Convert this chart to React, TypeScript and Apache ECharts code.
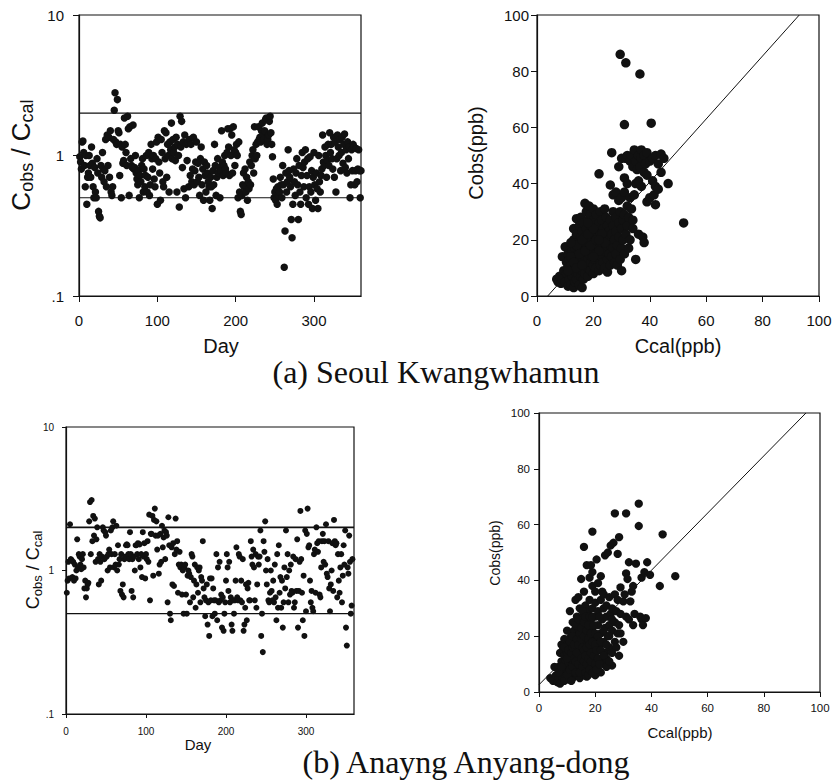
import React, { useEffect, useRef } from "react";
import * as echarts from "echarts";

// ---------- DATA ----------
// (a) Seoul Kwangwhamun : Cobs/Ccal ratio by day (day = index + 1)
const ratioSeoul: number[] = [
  0.98, 0.9, 0.8, 1.25, 1.27, 1.05, 0.85, 0.6, 1.0, 0.45,
  0.7, 0.75, 1.0, 0.85, 0.7, 1.15, 0.88, 0.6, 0.5, 0.82,
  0.55, 0.5, 0.95, 0.75, 0.4, 0.37, 0.36, 0.85, 0.7, 1.05,
  0.8, 0.65, 0.78, 1.3, 0.6, 1.4, 0.85, 1.35, 0.7, 1.5,
  0.55, 0.52, 0.6, 1.3, 2.1, 2.8, 1.25, 1.2, 2.5, 1.5,
  1.45, 0.72, 1.2, 0.5, 1.15, 0.88, 0.92, 1.85, 1.2, 1.05,
  0.85, 1.9, 1.55, 0.52, 1.6, 0.95, 0.85, 0.82, 1.65, 0.8,
  0.82, 1.0, 0.75, 0.68, 0.62, 0.78, 0.5, 0.72, 0.65, 0.85,
  0.95, 0.55, 0.8, 0.6, 0.72, 1.0, 0.55, 0.7, 1.05, 0.52,
  0.62, 1.2, 0.95, 0.8, 1.0, 0.68, 0.6, 0.95, 1.25, 0.45,
  1.35, 0.9, 0.75, 0.48, 1.3, 1.05, 0.65, 0.6, 1.5, 0.95,
  1.45, 0.7, 1.2, 1.0, 0.55, 1.25, 1.1, 1.7, 0.95, 1.3,
  1.05, 1.15, 0.92, 1.35, 0.55, 1.2, 1.0, 0.43, 1.9, 1.15,
  1.75, 0.82, 1.25, 0.58, 1.4, 0.5, 1.2, 0.92, 1.25, 0.6,
  1.3, 0.72, 1.2, 0.65, 0.8, 1.35, 0.62, 0.78, 0.9, 1.25,
  0.65, 0.88, 0.7, 0.52, 0.95, 1.15, 0.62, 0.8, 0.48, 0.9,
  0.72, 0.55, 0.85, 0.75, 0.65, 0.6, 0.48, 0.7, 0.6, 0.42,
  0.78, 0.62, 1.2, 0.85, 0.52, 0.7, 0.95, 0.75, 0.82, 0.5,
  0.78, 1.5, 0.9, 0.72, 0.85, 1.0, 0.8, 0.75, 1.05, 1.55,
  1.15, 0.72, 1.55, 1.0, 1.4, 0.75, 1.6, 1.1, 0.85, 1.05,
  1.2, 1.0, 0.5, 1.25, 0.55, 0.4, 0.38, 0.52, 0.62, 0.75,
  0.6, 0.8, 0.55, 0.7, 0.48, 0.65, 0.58, 0.9, 0.62, 0.85,
  1.0, 1.1, 0.75, 1.6, 0.95, 1.2, 1.0, 1.25, 1.6, 1.3,
  1.35, 1.25, 1.5, 1.7, 1.4, 1.3, 1.5, 1.8, 1.85, 1.2,
  1.3, 1.4, 1.75, 1.9, 1.45, 1.2, 0.98, 0.68, 0.5, 0.55,
  0.48, 0.58, 0.45, 0.6, 0.52, 0.55, 0.7, 0.62, 0.5, 0.85,
  0.62, 0.16, 0.29, 0.75, 0.55, 0.65, 1.1, 0.78, 0.7, 0.6,
  0.35, 0.26, 0.45, 0.8, 0.65, 0.52, 0.75, 0.95, 0.62, 0.35,
  0.85, 0.55, 0.45, 0.72, 1.05, 0.82, 0.6, 0.9, 1.1, 0.5,
  0.72, 0.95, 0.45, 0.6, 0.98, 0.55, 0.78, 0.42, 0.7, 1.05,
  0.62, 0.48, 0.75, 0.58, 0.42, 1.0, 0.65, 0.55, 0.72, 0.8,
  1.4, 0.9, 0.85, 1.15, 1.0, 0.7, 0.92, 1.2, 0.85, 1.45,
  1.05, 1.2, 0.95, 0.8, 1.35, 0.7, 1.25, 0.55, 0.95, 1.4,
  1.15, 1.0, 1.3, 0.78, 1.05, 1.35, 0.88, 1.2, 1.42, 0.82,
  1.1, 0.75, 1.25, 0.95, 1.15, 0.5, 0.62, 1.1, 0.78, 1.2,
  1.15, 0.62, 0.78, 1.12, 0.65, 0.8, 1.1, 0.78, 0.5, 0.78,
];

// (b) Anyang-dong : Cobs/Ccal ratio by day (day = index + 1)
const ratioAnyang: number[] = [
  0.7, 0.85, 1.15, 0.88, 2.1, 1.2, 1.18, 0.9, 1.15, 0.85,
  1.1, 0.88, 1.0, 1.65, 1.05, 1.3, 1.25, 1.1, 1.02, 1.2,
  1.3, 1.05, 0.75, 0.85, 0.65, 0.75, 0.8, 0.82, 2.2, 3.0,
  1.3, 3.1, 1.6, 2.4, 1.75, 2.3, 1.15, 1.65, 2.0, 1.2,
  0.8, 1.3, 1.15, 0.85, 1.25, 2.0, 1.9, 1.2, 1.85, 1.75,
  1.25, 1.0, 1.3, 1.4, 1.05, 1.9, 1.3, 2.0, 2.2, 1.05,
  1.3, 1.1, 2.05, 1.0, 1.5, 1.1, 1.2, 0.72, 1.3, 0.68,
  0.8, 0.65, 1.2, 1.25, 1.5, 1.52, 1.5, 1.3, 1.2, 1.85,
  1.3, 0.72, 1.2, 0.65, 1.25, 1.0, 1.5, 1.5, 1.3, 1.55,
  1.2, 1.52, 1.05, 1.3, 0.9, 1.85, 1.25, 1.55, 0.88, 1.3,
  1.2, 1.6, 1.15, 2.45, 0.62, 1.8, 1.8, 2.4, 0.92, 2.25,
  2.7, 1.75, 2.2, 1.4, 1.75, 0.95, 1.1, 1.8, 1.15, 2.05,
  1.45, 1.7, 1.9, 1.2, 1.85, 1.75, 0.6, 2.35, 1.5, 0.5,
  0.45, 1.45, 0.8, 1.55, 0.78, 1.3, 2.3, 1.4, 1.6, 0.7,
  1.1, 1.35, 1.05, 1.1, 0.68, 1.0, 0.5, 1.05, 1.1, 0.68,
  0.5, 0.92, 1.0, 0.95, 0.6, 0.9, 1.3, 1.25, 0.65, 0.85,
  1.1, 0.55, 0.8, 1.05, 0.7, 1.0, 1.05, 0.6, 0.9, 0.85,
  1.6, 0.75, 0.65, 0.48, 0.62, 0.8, 0.42, 0.6, 0.35, 0.88,
  0.62, 0.88, 0.48, 0.75, 0.62, 0.5, 0.62, 1.3, 0.45, 1.05,
  0.6, 1.15, 0.62, 0.68, 0.4, 0.65, 0.38, 0.5, 0.6, 0.85,
  1.3, 1.05, 0.72, 1.15, 0.6, 0.65, 0.42, 0.38, 0.62, 0.5,
  0.62, 0.85, 1.45, 0.65, 0.62, 1.3, 1.25, 0.62, 0.85, 0.6,
  1.2, 0.38, 0.42, 0.55, 0.8, 0.45, 0.75, 0.82, 0.62, 0.62,
  1.6, 1.25, 1.1, 1.4, 1.05, 0.62, 1.3, 0.55, 0.8, 1.25,
  1.1, 1.25, 1.9, 0.35, 0.5, 0.27, 1.6, 1.35, 2.2, 1.0,
  0.8, 1.2, 0.62, 0.6, 0.7, 1.0, 0.72, 0.62, 0.85, 0.6,
  1.1, 0.65, 0.45, 1.3, 0.55, 1.5, 0.7, 0.9, 0.55, 0.85,
  0.4, 0.6, 1.05, 0.75, 1.9, 0.9, 1.3, 0.6, 1.0, 0.68,
  1.1, 0.72, 0.7, 1.25, 0.55, 0.6, 1.2, 0.72, 1.65, 0.4,
  0.72, 1.15, 2.6, 1.2, 0.7, 0.45, 0.92, 0.35, 1.9, 0.52,
  1.8, 2.7, 1.45, 1.5, 0.85, 0.6, 0.72, 0.55, 0.52, 1.3,
  1.4, 0.7, 2.0, 1.55, 1.35, 1.6, 0.68, 0.65, 1.05, 1.6,
  1.8, 1.15, 1.6, 1.1, 2.1, 0.95, 0.9, 1.6, 0.75, 0.52,
  0.8, 1.0, 1.55, 0.72, 2.25, 1.6, 1.5, 1.55, 0.65, 1.3,
  0.85, 0.7, 1.05, 1.3, 0.6, 0.92, 1.5, 1.1, 1.9, 0.4,
  0.3, 1.05, 0.95, 1.75, 1.15, 0.5, 0.57, 1.2,
];

// Reference ratio lines (factor of two)
const ratioLines: number[] = [2, 0.5];

// (a) scatter : Ccal vs Cobs (ppb)
const ccalSeoul: number[] = [
  7, 7.5, 8, 8.5, 9, 9, 9.5, 10, 10, 10.5, 10.5, 11, 11, 11, 11.5, 11.5, 12, 12, 12, 12,
  12.5, 12.5, 13, 13, 13, 13, 13, 13.5, 13.5, 13.5, 14, 14, 14, 14, 14.5, 14.5, 14.5, 15, 15, 15,
  15, 15, 15.5, 15.5, 15.5, 16, 16, 16, 16, 16, 16.5, 16.5, 16.5, 17, 17, 17, 17, 17, 17.5, 17.5,
  17.5, 18, 18, 18, 18, 18, 18.5, 18.5, 18.5, 19, 19, 19, 19, 19, 19.5, 19.5, 20, 20, 20, 20,
  20, 20, 20.5, 20.5, 21, 21, 21, 21, 21.5, 21.5, 22, 22, 22, 22, 22, 22.5, 22.5, 22.5, 23, 23,
  23, 23.5, 23.5, 24, 24, 24, 24, 24.5, 24.5, 25, 25, 25, 25, 25.5, 25.5, 26, 26, 26, 26, 26.5,
  26.5, 26.5, 27, 27, 27, 27, 27.5, 27.5, 28, 28, 28, 28, 28.5, 28.5, 29, 29, 29, 29, 29.5, 29.5,
  29.5, 30, 30, 30, 30, 30, 30.5, 30.5, 31, 31, 31, 31, 31, 31.5, 31.5, 31.5, 32, 32, 32, 32,
  32.5, 32.5, 33, 33, 33, 33.5, 33.5, 34, 34, 34, 34.5, 34.5, 35, 35, 35, 35.5, 36, 36, 36, 36.5,
  36.5, 37, 37, 37, 37.5, 38, 38, 38, 38.5, 39, 39, 39, 40, 40, 40.5, 41, 41, 41.5, 42, 42,
  42, 43, 43, 44, 44, 45, 46.5, 52,
  11, 12, 13, 14, 15, 16, 17, 18, 19, 20, 21, 22, 23, 24, 12, 14, 16, 18, 20, 22,
];
const cobsSeoul: number[] = [
  6, 5, 7, 4.5, 14, 6, 9, 17.5, 5, 8, 12, 3.5, 10, 15, 6, 13, 4, 8, 11, 18,
  16, 7, 3, 9, 14, 20, 24, 5, 11, 17, 6, 12, 22, 27.5, 8, 15, 19, 4, 10, 13,
  18, 25, 7, 21, 28, 3, 9, 12, 16, 23, 6, 19, 26, 8, 11, 14, 21, 33, 17, 24,
  30, 7, 10, 13, 19, 27, 15, 22, 32, 9, 12, 17, 25, 29, 14, 20, 8, 11, 16, 22,
  27, 31, 13, 19, 10, 15, 24, 29, 18, 21, 9, 13, 17, 26, 43.5, 11, 22, 30, 14, 19,
  27, 12, 24, 10, 16, 21, 31, 18, 28, 8.5, 13, 20, 25, 15, 23, 11, 18, 27, 39.5, 51,
  14, 22, 17, 25, 30, 36, 12, 20, 15, 23, 28, 37, 18, 11, 21, 26, 46, 34, 86, 13,
  30, 9, 17, 24, 35, 49, 27, 20, 61, 42, 15, 29, 37, 83, 22, 49, 25, 32, 40, 50,
  17, 28, 35, 48, 20, 31, 50, 27, 46, 24, 52, 36, 13, 40, 48, 45, 22, 50, 41, 79,
  46, 39, 52, 49, 21, 19, 44, 50, 47, 33.5, 43, 51, 35, 48, 61.5, 41, 49, 36, 32.5, 39,
  50, 38, 47, 44, 50.5, 49, 40, 26,
  9, 14, 12, 18, 15, 20, 16, 22, 18, 24, 20, 16, 22, 19, 19, 10, 11, 26, 14, 20,
];

// (b) scatter : Ccal vs Cobs (ppb)
const ccalAnyang: number[] = [
  4, 5, 5.5, 6, 6.5, 7, 7, 7.5, 7.5, 8, 8, 8, 8.5, 8.5, 9, 9, 9, 9.5, 9.5, 10,
  10, 10, 10, 10.5, 10.5, 10.5, 11, 11, 11, 11, 11.5, 11.5, 12, 12, 12, 12, 12, 12.5, 12.5, 13,
  13, 13, 13, 13, 13.5, 13.5, 13.5, 14, 14, 14, 14, 14, 14.5, 14.5, 14.5, 15, 15, 15, 15, 15,
  15, 15.5, 15.5, 15.5, 16, 16, 16, 16, 16, 16, 16.5, 16.5, 16.5, 16.5, 17, 17, 17, 17, 17, 17.5,
  17.5, 17.5, 18, 18, 18, 18, 18, 18.5, 18.5, 18.5, 18.5, 19, 19, 19, 19, 19, 19, 19.5, 19.5, 19.5,
  20, 20, 20, 20, 20, 20.5, 20.5, 20.5, 21, 21, 21, 21, 21.5, 21.5, 22, 22, 22, 22, 22, 22.5,
  22.5, 23, 23, 23, 23, 23.5, 23.5, 23.5, 24, 24, 24, 24.5, 24.5, 25, 25, 25, 25.5, 25.5, 26, 26,
  26, 26.5, 27, 27, 27, 27, 27.5, 27.5, 28, 28, 28, 28.5, 28.5, 28.5, 29, 29, 29, 30, 30, 30.5,
  31, 31, 31, 31.5, 32, 32, 32.5, 33, 33.5, 33.5, 34, 34.5, 35.5, 35.5, 36, 36.5, 36.5, 37, 37.5, 38,
  38.5, 39.5, 43, 44, 48.5,
  11, 12, 13, 14, 15, 16, 17, 18, 19, 20, 21, 13, 15, 17, 19,
  7, 8, 9, 9, 10, 10, 10.5, 11, 11, 11.5, 11.5, 12, 12, 12, 12.5, 12.5, 13, 13, 13, 13.5,
  13.5, 14, 14, 14, 14.5, 14.5, 15, 15, 15, 15.5, 15.5, 15.5, 16, 16, 16, 16, 16.5, 16.5, 16.5, 17,
  17, 17, 17.5, 17.5, 17.5, 17.5, 18, 18, 18, 18.5, 18.5, 18.5, 19, 19, 19, 19.5, 19.5, 20, 20, 20,
  20.5, 20.5, 21, 21, 21.5, 21.5, 22, 22, 23, 23, 24, 24, 25, 25, 26, 26,
];
const cobsAnyang: number[] = [
  5, 4, 9, 6, 3.5, 9, 5, 3, 14, 7, 11, 17, 5, 15, 9, 13, 19, 6, 11, 8,
  14, 17, 22, 4.5, 10, 19, 6, 12, 16, 29, 9, 21, 5, 11, 14, 18, 25, 7, 22, 9,
  13, 16, 20, 33, 6, 11, 27, 8, 15, 19, 23, 34, 5, 12, 30, 9, 14, 17, 21, 26,
  40.5, 7, 11, 24, 6, 13, 18, 28, 36, 52, 9, 16, 22, 31, 5.5, 12, 19, 25, 45.5, 8,
  15, 29, 10, 14, 21, 33, 41, 7, 17, 26, 45.5, 12, 23, 30, 38, 43, 57.5, 9, 16, 20,
  6, 14, 27, 32, 36, 11, 19, 47.5, 8, 24, 29, 39, 15, 17, 7, 12, 21, 33, 41.5, 26,
  36, 10, 18, 30, 35, 14, 23, 49, 12, 27, 31, 20, 50, 16, 24, 34, 28, 52.5, 9.5, 22,
  30, 53.5, 18, 25, 35, 64, 16, 29, 21, 49.5, 33, 13, 55.5, 24, 21, 37.5, 28, 32.5, 18, 35,
  27, 42.5, 64, 40.5, 46.5, 26, 32.5, 36, 38, 24, 28, 46, 67.5, 59.5, 27, 41, 26, 24, 43, 26.5,
  46.5, 42, 38, 56.5, 41.5,
  8, 10, 12, 9, 11, 14, 10, 13, 8, 12, 16, 18, 20, 15, 14,
  7, 9, 4, 16, 6, 12, 15, 8, 18, 4, 14, 9, 16, 20, 12, 17, 7, 11, 24, 14,
  19, 10, 17, 26, 7, 21, 12, 19, 23, 9, 16, 29, 11, 15, 20, 25, 7, 13, 27, 10,
  16, 22, 6, 12, 19, 24, 8, 17, 27, 11, 14, 21, 7, 18, 27, 13, 24, 10, 17, 21,
  8, 15, 12, 20, 10, 27, 15, 18, 13, 22, 9, 17, 11, 20, 14, 26,
];

// 1:1-type fitted lines [x0, y0, x1, y1]
const fitSeoul: number[] = [3.8, 0, 93, 100];
const fitAnyang: number[] = [0, 2.6, 95, 100];

const dayTicks: number[] = [0, 100, 200, 300];

// ---------- CHART ----------
const SANS = '"Liberation Sans", Arial, Helvetica, sans-serif';
const SERIF = '"Liberation Serif", "Times New Roman", serif';
const INK = "#111";

function logFmt(v: number) {
  if (Math.abs(v - 0.1) < 1e-9) return ".1";
  return String(Math.round(v));
}

export default function App() {
  const ref = useRef<HTMLDivElement>(null);

  useEffect(() => {
    if (!ref.current) return;
    const chart = echarts.init(ref.current, undefined, { renderer: "svg" });

    const grids = [
      { left: 79, top: 15, width: 282, height: 281 },
      { left: 537, top: 15, width: 282, height: 281 },
      { left: 66, top: 427, width: 288, height: 287 },
      { left: 539, top: 413, width: 281, height: 279 },
    ].map((g) => ({ ...g, show: true, borderColor: INK, borderWidth: 1.2, backgroundColor: "transparent" }));

    const axisCommon = (fontSize: number, margin: number, tickLen: number) => ({
      axisLine: { show: true, onZero: false, lineStyle: { color: INK, width: 1.2 } },
      axisTick: { show: true, inside: false, length: tickLen, lineStyle: { color: INK, width: 1 } },
      splitLine: { show: false },
      axisLabel: { color: INK, fontFamily: SANS, fontSize, margin },
    });

    const xAxis: any[] = [
      {
        gridIndex: 0, type: "value", min: 0, max: 360, interval: 100,
        ...axisCommon(15, 17, 6),
        axisTick: { show: true, length: 6, lineStyle: { color: INK }, customValues: dayTicks },
        axisLabel: { color: INK, fontFamily: SANS, fontSize: 15, margin: 17, customValues: dayTicks },
      },
      { gridIndex: 1, type: "value", min: 0, max: 100, interval: 20, ...axisCommon(15, 17, 6) },
      {
        gridIndex: 2, type: "value", min: 0, max: 360, interval: 100,
        ...axisCommon(10, 12, 4),
        axisTick: { show: true, length: 4, lineStyle: { color: INK }, customValues: dayTicks },
        axisLabel: { color: INK, fontFamily: SANS, fontSize: 10, margin: 12, customValues: dayTicks },
      },
      { gridIndex: 3, type: "value", min: 0, max: 100, interval: 20, ...axisCommon(11.5, 10, 5) },
    ];

    const yAxis: any[] = [
      {
        gridIndex: 0, type: "log", logBase: 10, min: 0.1, max: 10,
        ...axisCommon(15, 15, 6),
        axisLabel: { color: INK, fontFamily: SANS, fontSize: 15, margin: 15, formatter: logFmt },
        minorTick: { show: false },
      },
      { gridIndex: 1, type: "value", min: 0, max: 100, interval: 20, ...axisCommon(15, 8, 6) },
      {
        gridIndex: 2, type: "log", logBase: 10, min: 0.1, max: 10,
        ...axisCommon(10, 12, 4),
        axisLabel: { color: INK, fontFamily: SANS, fontSize: 10, margin: 12, formatter: logFmt },
        minorTick: { show: false },
      },
      { gridIndex: 3, type: "value", min: 0, max: 100, interval: 20, ...axisCommon(11.5, 9, 5) },
    ];

    const refLine = (idx: number, v: number, w: number) => ({
      type: "line", xAxisIndex: idx, yAxisIndex: idx, silent: true, symbol: "none",
      lineStyle: { color: INK, width: w }, data: [[0, v], [360, v]], z: 1,
    });

    const fitLine = (idx: number, f: number[]) => ({
      type: "line", xAxisIndex: idx, yAxisIndex: idx, silent: true, symbol: "none",
      lineStyle: { color: INK, width: 1 }, data: [[f[0], f[1]], [f[2], f[3]]], z: 1,
    });

    const scatter = (idx: number, data: number[][], size: number) => ({
      type: "scatter", xAxisIndex: idx, yAxisIndex: idx, silent: true,
      symbolSize: size, itemStyle: { color: INK, opacity: 1 }, data, z: 2,
    });

    const series: any[] = [
      refLine(0, ratioLines[0], 1.3),
      refLine(0, ratioLines[1], 1.1),
      scatter(0, ratioSeoul.map((v, i) => [i + 1, v]), 7.5),
      fitLine(1, fitSeoul),
      scatter(1, ccalSeoul.map((x, i) => [x, cobsSeoul[i]]), 9.5),
      refLine(2, ratioLines[0], 1.8),
      refLine(2, ratioLines[1], 1.2),
      scatter(2, ratioAnyang.map((v, i) => [i + 1, v]), 6),
      fitLine(3, fitAnyang),
      scatter(3, ccalAnyang.map((x, i) => [x, cobsAnyang[i]]), 8.3),
    ];

    const vText = (x: number, y: number, text: string, fontSize: number, rich?: any) => ({
      type: "text", x, y, rotation: Math.PI / 2, silent: true,
      style: { text, fill: INK, fontFamily: SANS, fontSize, align: "center", verticalAlign: "middle", rich },
    });
    const hText = (x: number, y: number, text: string, fontSize: number, family = SANS) => ({
      type: "text", x, y, silent: true,
      style: { text, fill: INK, fontFamily: family, fontSize, align: "center", verticalAlign: "middle" },
    });

    const ratioRich = (big: number, small: number, lh: number, slh: number) => ({
      c: { fontSize: big, fontFamily: SANS, fill: INK, lineHeight: lh },
      s: { fontSize: small, fontFamily: SANS, fill: INK, lineHeight: slh, verticalAlign: "bottom" },
    });

    const graphic: any[] = [
      vText(21, 155, "{c|C}{s|obs}{c| / C}{s|cal}", 26, ratioRich(26, 18, 30, 16)),
      hText(221, 346, "Day", 20),
      vText(476, 153, "Cobs(ppb)", 20),
      hText(678, 346, "Ccal(ppb)", 20),
      hText(436, 372, "(a) Seoul Kwangwhamun", 32, SERIF),
      vText(33, 570, "{c|C}{s|obs}{c| / C}{s|cal}", 18, ratioRich(18, 13, 21, 11)),
      hText(198, 744, "Day", 15),
      vText(495, 553, "Cobs(ppb)", 14),
      hText(680, 732, "Ccal(ppb)", 15),
      hText(466, 762, "(b) Anayng Anyang-dong", 32, SERIF),
    ];

    chart.setOption({
      animation: false,
      backgroundColor: "#fff",
      grid: grids,
      xAxis,
      yAxis,
      series,
      graphic,
    });

    return () => chart.dispose();
  }, []);

  return (
    <div
      ref={ref}
      style={{ position: "absolute", left: 0, top: 0, width: 836, height: 782 }}
    />
  );
}
